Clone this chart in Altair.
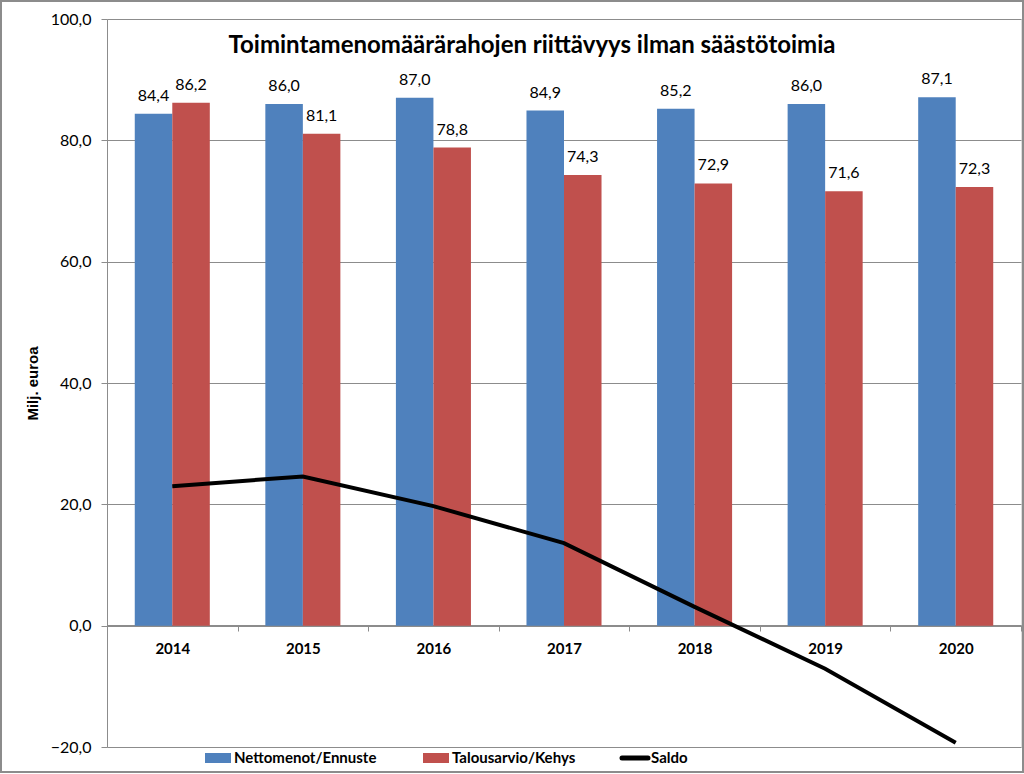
import altair as alt
import pandas as pd

years = ["2014", "2015", "2016", "2017", "2018", "2019", "2020"]
netto = [84.4, 86.0, 87.0, 84.9, 85.2, 86.0, 87.1]
talous = [86.2, 81.1, 78.8, 74.3, 72.9, 71.6, 72.3]
saldo = [23.0, 24.6, 19.7, 13.6, 3.1, -7.1, -19.3]
series_names = ["Nettomenot/Ennuste", "Talousarvio/Kehys", "Saldo"]
series_colors = ["#4F81BD", "#C0504D", "#000000"]
y_ticks = [-20, 0, 20, 40, 60, 80, 100]
title_text = "Toimintamenomäärärahojen riittävyys ilman säästötoimia"

W, H = 914, 728
FONT = "Lato"
GRID = "#8c8c8c"

rows = []
for i, y in enumerate(years):
    rows.append({"year": y, "series": series_names[0], "value": netto[i]})
    rows.append({"year": y, "series": series_names[1], "value": talous[i]})
bars_df = pd.DataFrame(rows)
saldo_df = pd.DataFrame({"year": years, "value": saldo})

x_enc = alt.X(
    "year:N",
    sort=years,
    scale=alt.Scale(paddingInner=0, paddingOuter=0),
    axis=alt.Axis(
        title=None, labelAngle=0, labelFont=FONT, labelFontSize=15,
        labelFontWeight="bold", labelColor="#000000", offset=-122,
        tickBand="extent", tickSize=6, tickColor=GRID, domainColor=GRID,
        labelPadding=10, grid=False,
    ),
)
y_scale = alt.Scale(domain=[-20, 100], nice=False, zero=False)
y_axis = alt.Axis(
    title="Milj. euroa", titleFont="Liberation Sans", titleFontSize=15,
    titleFontWeight="bold", titleColor="#000000", titleX=-75, titleY=364,
    titleAngle=270, titleAlign="center", titleBaseline="middle",
    values=y_ticks, labelExpr="replace(format(datum.value, '.1f'), '.', ',')",
    labelFont=FONT, labelFontSize=16, labelColor="#000000", labelPadding=10,
    grid=True, gridColor=GRID, gridWidth=1, domainColor=GRID, tickColor=GRID,
    tickSize=6,
)
color_scale = alt.Scale(domain=series_names[:2], range=series_colors[:2])
xoff = alt.XOffset("series:N", sort=series_names[:2],
                   scale=alt.Scale(paddingInner=0, paddingOuter=0.74))

base = alt.Chart(bars_df)
bars = base.mark_bar().encode(
    x=x_enc,
    xOffset=xoff,
    y=alt.Y("value:Q", scale=y_scale, axis=y_axis),
    color=alt.Color("series:N", scale=color_scale, legend=None),
)
labels = base.transform_calculate(
    lab="replace(format(datum.value, '.1f'), '.', ',')"
).mark_text(font=FONT, fontSize=16, color="#000000", baseline="alphabetic", dy=-13).encode(
    x=alt.X("year:N", sort=years),
    xOffset=xoff,
    y=alt.Y("value:Q", scale=y_scale),
    text="lab:N",
)
line = alt.Chart(saldo_df).mark_line(color="#000000", strokeWidth=4).encode(
    x=alt.X("year:N", sort=years),
    y=alt.Y("value:Q", scale=y_scale),
)

# manual legend below the plot
leg_df = pd.DataFrame({
    "name": series_names,
    "color": series_colors,
    "sx": [98, 316, 515],
})
leg_rects = alt.Chart(leg_df).transform_filter("datum.name != 'Saldo'").mark_rect().encode(
    x=alt.X("sx:Q", scale=None),
    x2=alt.X2("sx2:Q"),
    y=alt.value(734),
    y2=alt.value(744),
    color=alt.Color("color:N", scale=None),
).transform_calculate(sx2="datum.sx + 26")
leg_line = alt.Chart(leg_df).transform_filter("datum.name == 'Saldo'").transform_calculate(
    sx2="datum.sx + 26"
).mark_rule(color="#000000", strokeWidth=5, strokeCap="round").encode(
    x=alt.X("sx:Q", scale=None),
    x2=alt.X2("sx2:Q"),
    y=alt.value(739),
)
leg_text = alt.Chart(leg_df).transform_calculate(tx="datum.sx + 29").mark_text(
    font=FONT, fontSize=15, fontWeight="bold", align="left", baseline="middle", color="#000000"
).encode(
    x=alt.X("tx:Q", scale=None),
    y=alt.value(739),
    text="name:N",
)
border = alt.Chart(leg_df).transform_filter("datum.name == 'Saldo'").mark_rect(
    fill=None, stroke="#8c8c8c", strokeWidth=2
).encode(
    x=alt.value(-106), x2=alt.value(W + 2), y=alt.value(-18), y2=alt.value(H + 25)
)
title = alt.Chart(pd.DataFrame({"t": [title_text]})).mark_text(
    font=FONT, fontSize=24, fontWeight="bold", color="#000000",
    align="center", baseline="alphabetic",
).encode(x=alt.value(425), y=alt.value(34), text="t:N")

chart = alt.layer(bars, labels, line, leg_rects, leg_line, leg_text, border, title).properties(
    width=W,
    height=H,
    autosize=alt.AutoSizeParams(type="none"),
    padding={"left": 107, "top": 19, "right": 3, "bottom": 27},
).configure_view(stroke=None).configure(background="#ffffff")

chart.save("out.html", embed_options={"renderer": "svg", "actions": False})
